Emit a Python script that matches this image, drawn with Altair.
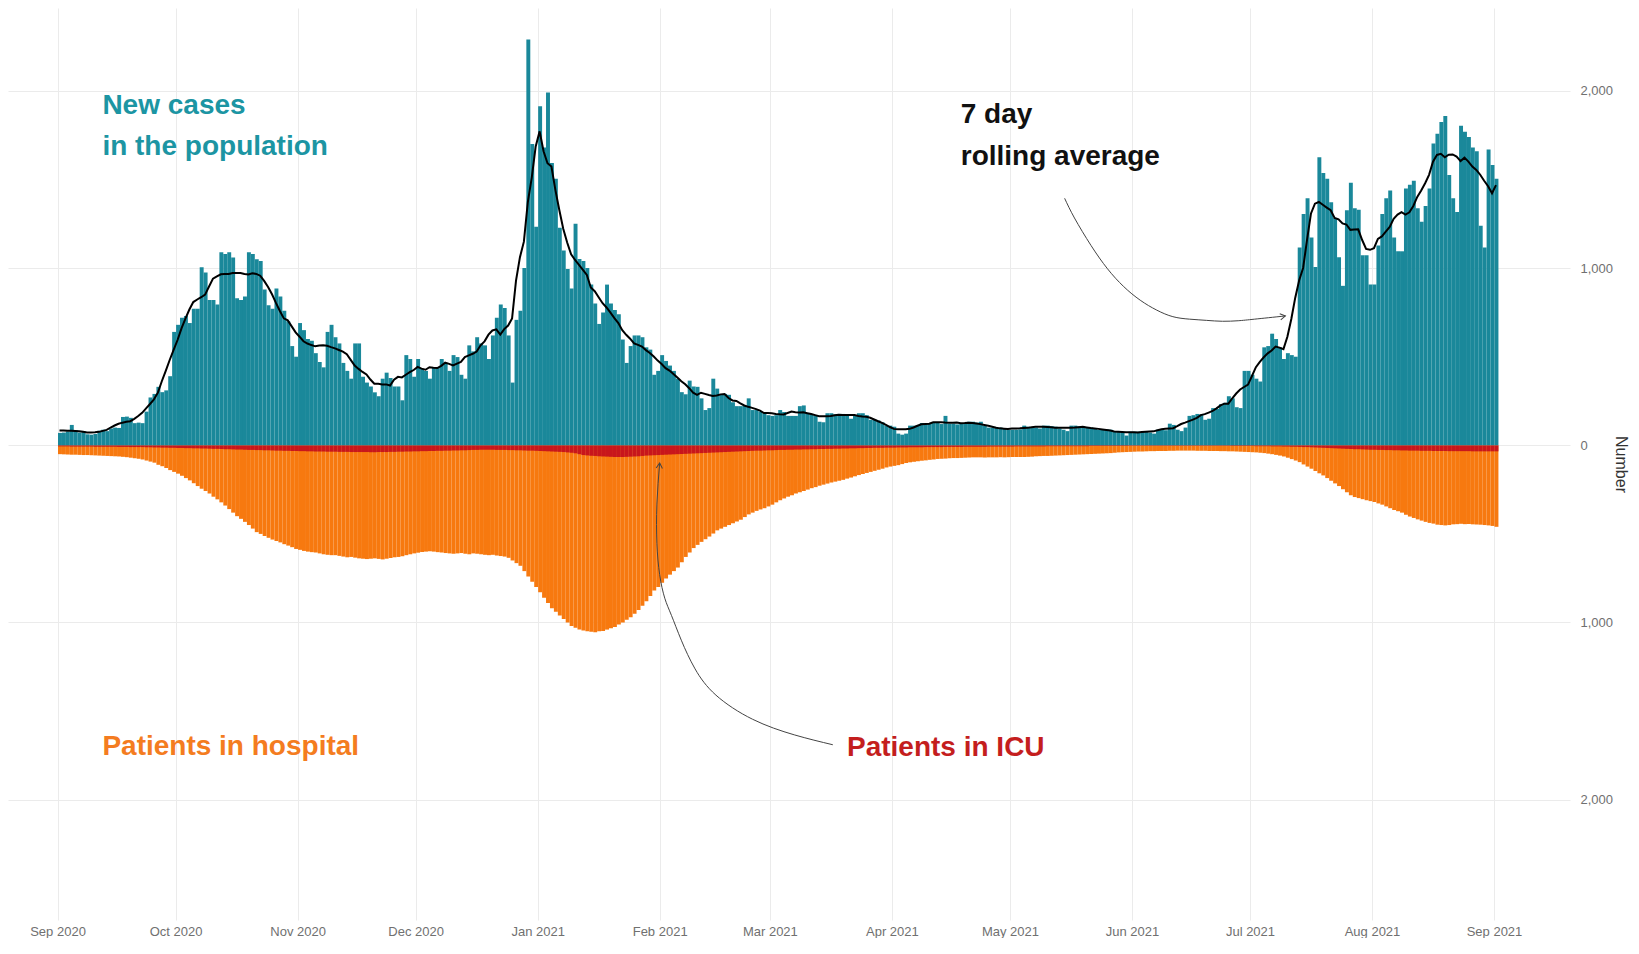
import altair as alt
import pandas as pd

# ---------------- data (daily, 1 Sep 2020 .. 1 Sep 2021), rows = weeks Tue..Mon ----------------
cases = [
    70, 72, 78, 115, 85, 72, 80,
    62, 60, 64, 82, 88, 80, 95,
    100, 98, 160, 162, 155, 125, 128,
    125, 190, 270, 290, 330, 300, 310,
    390, 640, 680, 720, 730, 690, 770,
    770, 1005, 975, 820, 820, 795, 1090,
    1080, 1090, 1060, 830, 820, 840, 1090,
    1080, 1050, 1040, 880, 790, 770, 885,
    840, 760, 700, 560, 500, 690, 650,
    600, 590, 520, 470, 440, 640, 680,
    610, 575, 465, 420, 376, 575, 575,
    387, 354, 332, 299, 277, 376, 410,
    380, 332, 332, 254, 509, 487, 387,
    487, 431, 420, 376, 442, 442, 487,
    465, 420, 509, 498, 398, 376, 564,
    530, 610, 575, 564, 487, 620, 720,
    795, 775, 620, 354, 708, 760, 1000,
    2290, 1700, 1234, 1913, 1681, 1991, 1593,
    1504, 1228, 1100, 995, 885, 1250, 1051,
    1040, 1000, 907, 800, 685, 750, 907,
    800, 763, 740, 597, 465, 560, 620,
    620, 610, 553, 540, 398, 420, 509,
    476, 450, 420, 376, 300, 288, 365,
    332, 330, 265, 199, 210, 376, 320,
    288, 290, 285, 243, 221, 221, 225,
    265, 199, 199, 190, 180, 170, 166,
    170, 199, 188, 166, 166, 166, 221,
    225, 177, 177, 170, 133, 130, 181,
    181, 175, 177, 177, 170, 150, 166,
    181, 181, 170, 144, 144, 140, 130,
    111, 111, 105, 66, 60, 66, 111,
    111, 111, 126, 120, 126, 126, 126,
    120, 166, 122, 122, 118, 122, 122,
    133, 133, 128, 133, 110, 100, 100,
    98, 100, 95, 88, 88, 88, 90,
    111, 105, 100, 100, 95, 111, 111,
    108, 105, 95, 88, 80, 111, 111,
    108, 105, 100, 100, 95, 88, 88,
    90, 88, 77, 77, 75, 55, 77,
    77, 77, 75, 77, 72, 66, 88,
    88, 85, 122, 115, 88, 80, 100,
    166, 170, 177, 175, 144, 150, 210,
    205, 232, 240, 277, 265, 215, 210,
    420, 420, 398, 376, 360, 553, 560,
    630, 600, 553, 487, 520, 509, 500,
    1117, 1305, 1394, 1173, 1007, 1626, 1537,
    1504, 1372, 1283, 1062, 900, 1327, 1482,
    1338, 1330, 1073, 1073, 907, 907, 1128,
    1305, 1394, 1438, 1173, 1095, 1095, 1449,
    1471, 1493, 1338, 1261, 1350, 1450, 1703,
    1759, 1825, 1858, 1526, 1394, 1316, 1803,
    1770, 1740, 1681, 1660, 1239, 1117, 1670,
    1582, 1504,
]

hospital = [
    50, 51, 52, 53, 53, 54, 55,
    55, 56, 57, 58, 59, 60, 61,
    62, 63, 65, 67, 70, 73, 76,
    80, 86, 92, 98, 110, 118, 128,
    140, 150, 160, 172, 185, 198, 214,
    230, 245, 258, 272, 290, 305, 322,
    340, 360, 380, 400, 415, 432, 450,
    470, 490, 500, 512, 522, 532, 540,
    548, 558, 566, 575, 585, 590, 596,
    600, 603, 605, 610, 615, 618, 620,
    620, 624, 628, 632, 630, 634, 638,
    640, 642, 640, 638, 641, 644, 640,
    636, 632, 630, 626, 620, 615, 610,
    606, 602, 600, 598, 600, 603, 605,
    608, 610, 612, 610, 608, 612, 615,
    610, 612, 615, 618, 620, 618, 622,
    625, 628, 635, 650, 665, 680, 710,
    740, 770, 800, 830, 860, 890, 920,
    940, 960, 980, 1000, 1020, 1030, 1040,
    1045, 1050, 1052, 1055, 1050, 1048, 1040,
    1032, 1025, 1012, 1000, 985, 970, 950,
    930, 905, 880, 850, 820, 800, 775,
    752, 730, 710, 690, 660, 630, 605,
    580, 562, 545, 530, 515, 498, 480,
    470, 460, 450, 440, 430, 420, 405,
    390, 380, 370, 362, 355, 345, 335,
    322, 310, 300, 290, 282, 272, 265,
    258, 250, 242, 236, 228, 222, 216,
    210, 205, 200, 195, 188, 182, 175,
    168, 162, 156, 150, 144, 138, 132,
    125, 120, 116, 112, 106, 100, 96,
    93, 90, 87, 85, 82, 80, 77,
    76, 75, 73, 72, 72, 71, 70,
    69, 68, 68, 68, 69, 68, 68,
    68, 67, 68, 67, 66, 66, 66,
    66, 65, 64, 62, 61, 60, 60,
    59, 58, 57, 56, 55, 54, 53,
    52, 51, 50, 49, 48, 47, 46,
    45, 44, 42, 40, 39, 38, 37,
    36, 35, 35, 34, 33, 33, 32,
    32, 32, 31, 31, 30, 30, 30,
    30, 30, 31, 31, 31, 32, 32,
    32, 33, 33, 34, 34, 35, 36,
    37, 38, 39, 40, 42, 44, 47,
    50, 54, 58, 63, 70, 78, 86,
    95, 108, 120, 132, 145, 158, 170,
    185, 200, 215, 230, 248, 265, 282,
    292, 298, 304, 310, 315, 320, 328,
    335, 345, 355, 365, 372, 380, 392,
    402, 410, 418, 425, 432, 438, 442,
    448, 450, 452, 450, 446, 445, 443,
    445, 444, 446, 447, 448, 450, 452,
    455, 460,
]

icu = [
    6, 6, 6, 7, 7, 7, 7,
    7, 7, 8, 8, 8, 8, 8,
    8, 9, 9, 9, 10, 10, 10,
    10, 11, 11, 12, 12, 13, 13,
    14, 14, 15, 15, 16, 16, 17,
    17, 18, 18, 19, 20, 20, 21,
    22, 22, 23, 24, 24, 25, 26,
    26, 27, 27, 28, 28, 29, 30,
    30, 31, 31, 32, 32, 33, 33,
    34, 34, 35, 35, 35, 36, 36,
    36, 37, 37, 37, 38, 38, 38,
    38, 38, 39, 39, 38, 38, 38,
    37, 37, 36, 36, 35, 35, 34,
    34, 33, 33, 32, 32, 31, 31,
    30, 30, 29, 29, 28, 28, 27,
    26, 26, 25, 25, 25, 25, 26,
    26, 26, 27, 27, 28, 28, 29,
    30, 30, 31, 32, 33, 34, 35,
    36, 37, 38, 40, 42, 45, 50,
    55, 57, 59, 60, 62, 63, 64,
    65, 66, 66, 66, 65, 64, 63,
    62, 60, 58, 57, 56, 55, 54,
    53, 52, 51, 50, 49, 48, 47,
    46, 45, 44, 43, 42, 41, 40,
    39, 38, 37, 36, 35, 34, 33,
    32, 31, 30, 30, 29, 28, 28,
    27, 26, 26, 25, 25, 24, 24,
    23, 23, 22, 22, 21, 21, 20,
    20, 19, 19, 18, 18, 17, 17,
    16, 16, 15, 15, 14, 14, 14,
    13, 13, 13, 12, 12, 12, 11,
    11, 11, 11, 10, 10, 10, 10,
    10, 9, 9, 9, 9, 9, 8,
    8, 8, 8, 8, 8, 7, 7,
    7, 7, 7, 7, 7, 6, 6,
    6, 6, 6, 6, 6, 6, 5,
    5, 5, 5, 5, 5, 5, 5,
    5, 5, 5, 4, 4, 4, 4,
    4, 4, 4, 4, 4, 4, 3,
    3, 3, 3, 3, 3, 3, 3,
    3, 3, 3, 3, 3, 3, 3,
    3, 3, 3, 3, 3, 3, 3,
    3, 3, 3, 3, 4, 4, 4,
    4, 4, 4, 5, 5, 5, 5,
    6, 6, 6, 7, 7, 8, 8,
    9, 10, 10, 11, 12, 13, 14,
    15, 16, 17, 18, 19, 20, 21,
    22, 22, 23, 24, 25, 25, 26,
    26, 27, 27, 28, 28, 29, 29,
    30, 30, 30, 31, 31, 31, 32,
    32, 32, 32, 33, 33, 33, 33,
    33, 33, 34, 34, 34, 34, 34,
    34, 34,
]

y_ticks = [-2000, -1000, 0, 1000, 2000]

# annotation arrows: days after 1 Sep 2020, value
arrow_avg_days = [255.9, 258.4, 262.6, 266.8, 270.9, 275.1, 279.3, 283.4, 287.6, 292.0, 296.0, 300.0, 304.2, 312.0]
arrow_avg_vals = [1394, 1283, 1128, 996, 896, 819, 763, 726, 712, 705, 700, 703, 712, 730]
arrow_icu_days = [197.0, 187.2, 176.6, 167.3, 162.0, 158.5, 156.0, 154.3, 153.0, 152.3, 152.3, 153.0]
arrow_icu_vals = [-1690, -1634, -1546, -1410, -1262, -1100, -960, -863, -730, -553, -332, -100]

# ---------------- build ----------------
BASE = pd.Timestamp("2020-09-01")
df = pd.DataFrame({
    "date": pd.date_range(BASE, periods=len(cases), freq="D"),
    "cases": cases,
    "hospital": hospital,
    "icu": icu,
})


def day(d):
    return BASE + pd.Timedelta(days=d)


TEAL = "#1A889A"
ORANGE = "#F7790F"
RED = "#C8161C"
ARROW = "#444444"
FONT = "Liberation Sans"

xscale = alt.Scale(
    domain=[alt.DateTime(year=2020, month=8, date=19, hours=10),
            alt.DateTime(year=2021, month=9, date=20, hours=7, minutes=30)],
    nice=False,
)
yscale = alt.Scale(domain=[-2679, 2468], nice=False, zero=False)

month_ticks = [alt.DateTime(year=2020 + (8 + i) // 12, month=(8 + i) % 12 + 1, date=1) for i in range(13)]

xaxis = alt.Axis(
    values=month_ticks, format="%b %Y", title=None, grid=True, gridColor="#ebebeb",
    ticks=False, domain=False, labelFont=FONT, labelFontSize=13, labelColor="#707070",
    labelPadding=5,
)
yaxis = alt.Axis(
    orient="right", values=y_ticks, labelExpr="format(abs(datum.value), ',')",
    grid=True, gridColor="#ebebeb", ticks=False, domain=False,
    labelFont=FONT, labelFontSize=13, labelColor="#707070", labelPadding=10,
    title="Number", titleAngle=90, titleFont=FONT, titleFontSize=16,
    titleFontWeight="normal", titleColor="#333333", titlePadding=0,
)


def X(field, **kw):
    return alt.X(field, scale=xscale, axis=xaxis, **kw)


def Y(field):
    return alt.Y(field, scale=yscale, axis=yaxis)


base = alt.Chart(df)

hosp_bars = base.transform_calculate(neg="-datum.hospital").mark_bar(
    color=ORANGE, binSpacing=0
).encode(x=X("yearmonthdate(date):T"), y=Y("neg:Q"))

icu_bars = base.transform_calculate(neg="-datum.icu").mark_bar(
    color=RED, binSpacing=0
).encode(x=X("yearmonthdate(date):T"), y=Y("neg:Q"))

case_bars = base.mark_bar(color=TEAL, binSpacing=0).encode(
    x=X("yearmonthdate(date):T"), y=Y("cases:Q")
)

avg_line = base.transform_window(
    avg="mean(cases)", frame=[-3, 3], sort=[alt.SortField("date")]
).mark_line(color="black", strokeWidth=2).encode(
    x=X("yearmonthdate(date):T", bandPosition=0.5),
    y=Y("avg:Q"),
)


def arrow(days, vals, angle):
    a = pd.DataFrame({"date": [day(d) for d in days], "v": vals, "i": list(range(len(days)))})
    line = alt.Chart(a).mark_line(color=ARROW, strokeWidth=1, interpolate="natural").encode(
        x=X("date:T"), y=Y("v:Q"), order="i:Q",
    )
    tip = alt.Chart(a.tail(1)).mark_point(
        shape="M -1 -0.6 L 0 0 L -1 0.6", filled=False, size=110, strokeWidth=1,
        color=ARROW, angle=angle, opacity=1,
    ).encode(x=X("date:T"), y=Y("v:Q"))
    return line + tip


def label(text, d, v, color):
    t = pd.DataFrame({"date": [day(d)], "v": [v], "t": [text]})
    return alt.Chart(t).mark_text(
        align="left", baseline="middle", font=FONT, fontSize=28, fontWeight="bold", color=color
    ).encode(x=X("date:T"), y=Y("v:Q"), text="t:N")


chart = alt.layer(
    hosp_bars,
    icu_bars,
    case_bars,
    avg_line,
    arrow(arrow_avg_days, arrow_avg_vals, 351),
    arrow(arrow_icu_days, arrow_icu_vals, 274),
    label("New cases", 11.4, 1917, "#1C95A3"),
    label("in the population", 11.4, 1681, "#1C95A3"),
    label("7 day", 229.5, 1864, "#111111"),
    label("rolling average", 229.5, 1628, "#111111"),
    label("Patients in hospital", 11.4, -1705, "#F47C20"),
    label("Patients in ICU", 200.6, -1708, "#C41E1E"),
).properties(
    width=1562, height=912,
    padding={"left": 0, "top": 0, "right": 0, "bottom": 0},
    background="white",
).configure_view(stroke=None)

chart.save("out.html", embed_options={"renderer": "svg", "actions": False})
